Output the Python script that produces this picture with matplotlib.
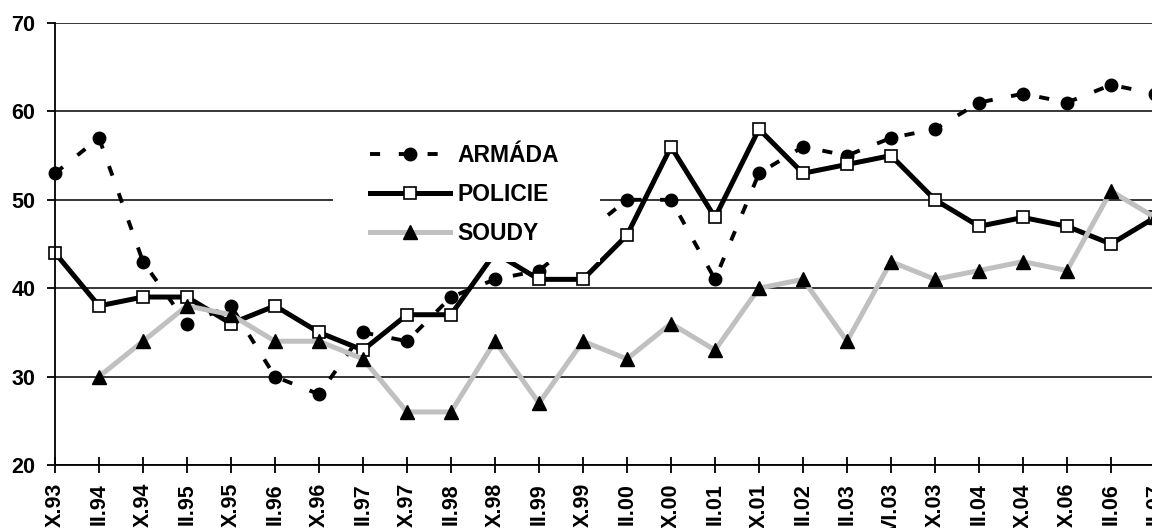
import numpy as np
import matplotlib
matplotlib.use("Agg")
import matplotlib.pyplot as plt
from matplotlib.patches import Rectangle

plt.rcParams['font.family'] = ['Liberation Sans', 'DejaVu Sans']
plt.rcParams['font.weight'] = 'bold'

# survey waves (labels as visible, bottom of them is cut by the image edge)
labels = ['X.93', 'II.94', 'X.94', 'II.95', 'X.95', 'II.96', 'X.96', 'II.97',
          'X.97', 'II.98', 'X.98', 'II.99', 'X.99', 'II.00', 'X.00', 'II.01',
          'X.01', 'II.02', 'II.03', 'VI.03', 'X.03', 'II.04', 'X.04', 'X.06',
          'II.06', 'II.07']

armada = [53, 57, 43, 36, 38, 30, 28, 35, 34, 39, 41, 42, 46, 50, 50, 41,
          53, 56, 55, 57, 58, 61, 62, 61, 63, 62]
policie = [44, 38, 39, 39, 36, 38, 35, 33, 37, 37, 44, 41, 41, 46, 56, 48,
           58, 53, 54, 55, 50, 47, 48, 47, 45, 48]
# no value for the first wave
soudy = [np.nan, 30, 34, 38, 37, 34, 34, 32, 26, 26, 34, 27, 34, 32, 36, 33,
         40, 41, 34, 43, 41, 42, 43, 42, 51, 48]

W, H = 1152, 528
fig = plt.figure(figsize=(W / 100, H / 100), dpi=100)
# plot area: left spine at x=55 px, 20 at y=465 px, 70 at y=23 px
ax = fig.add_axes([55 / W, (H - 465) / H, 1100 / W, 442 / H])

x = np.arange(len(labels))

ax.plot(x, armada, color='black', lw=2.8, dashes=(2.6, 4.8),
        marker='o', ms=9, mfc='black', mec='black', label='ARMÁDA', zorder=3,
        clip_on=False)
ax.plot(x, policie, color='black', lw=3.6, solid_joinstyle='miter',
        marker='s', ms=9.2, mfc='white', mec='black', mew=1.2,
        label='POLICIE', zorder=3, clip_on=False)
ax.plot(x, soudy, color='#c0c0c0', lw=3.6,
        marker='^', ms=9.5, mfc='black', mec='black', label='SOUDY',
        zorder=3, clip_on=False)

ax.set_xlim(0, len(labels) - 1)
ax.set_ylim(20, 70)
ax.set_yticks([20, 30, 40, 50, 60, 70])
ax.set_xticks(x)
ax.set_xticklabels(labels, rotation=90, va='top', ha='center')

ax.grid(axis='y', color='black', lw=1.1, zorder=1)
ax.set_axisbelow(True)
for s in ['top', 'right']:
    ax.spines[s].set_visible(False)
for s in ['left', 'bottom']:
    ax.spines[s].set_linewidth(1.3)
    ax.spines[s].set_zorder(4)

ax.tick_params(axis='y', direction='out', length=6, width=1.3, pad=8,
               labelsize=15.5)
ax.tick_params(axis='x', direction='inout', length=12, width=1.3, pad=7,
               labelsize=15.5)

# white box behind the legend
ax.add_patch(Rectangle((0.2527, 0.459), 0.2428, 0.31, transform=ax.transAxes,
                       facecolor='white', edgecolor='none', zorder=5))
leg = ax.legend(loc='center left', bbox_to_anchor=(0.2864, 0.612),
                frameon=False, borderpad=0, borderaxespad=0,
                handlelength=3.5, handletextpad=0.3, labelspacing=0.69,
                fontsize=16.5)
leg.set_zorder(6)

fig.savefig('out.png', dpi=100)
